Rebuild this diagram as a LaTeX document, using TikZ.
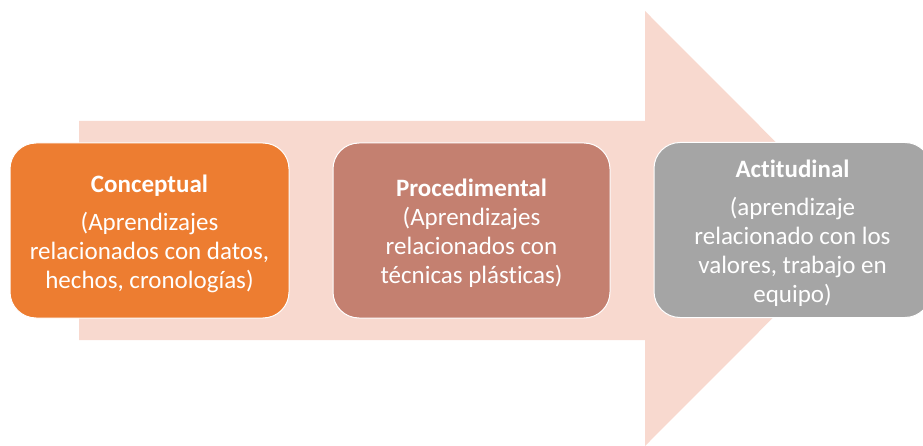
\documentclass[tikz,border=0pt]{standalone}
\usepackage{fontspec}
\setmainfont[RawFeature={-liga;-clig;-dlig}]{Carlito}
\definecolor{arrowfill}{HTML}{F8D9CF}
\definecolor{orangec}{HTML}{ED7D31}
\definecolor{brownc}{HTML}{C48070}
\definecolor{grayc}{HTML}{A5A5A5}
\begin{document}
\begin{tikzpicture}[x=1pt,y=-1pt,
  stagebox/.style={draw=white, line width=1pt, rounded corners=26pt,
    minimum height=175pt, inner sep=0pt},
  stagetext/.style={text=white, align=center, inner sep=0pt, yshift=-3pt,
    font=\fontsize{25}{29}\selectfont}]
\useasboundingbox (0,0) rectangle (923,446);
\clip (0,0) rectangle (923,446);
\fill[arrowfill] (79,121) -- (645,121) -- (645,11) -- (862,228.5) -- (645,446) -- (645,340) -- (79,340) -- cycle;
\node[stagebox, fill=orangec, minimum width=279pt] (c) at (149.5,230.5) {};
\node[stagebox, fill=brownc, minimum width=277pt] (p) at (471.5,230.5) {};
\node[stagebox, fill=grayc, minimum width=277pt] (a) at (792.5,230) {};
\node[stagetext] (ct) at (c.center)
  {\textbf{Conceptual}\\[9pt](Aprendizajes\\relacionados con datos,\\hechos, cronologías)};
\node[stagetext] (pt) at (p.center)
  {\textbf{Procedimental}\\(Aprendizajes\\relacionados con\\técnicas plásticas)};
\node[stagetext] (at) at (a.center)
  {\textbf{Actitudinal}\\[9pt](aprendizaje\\relacionado con los\\valores, trabajo en\\equipo)};
\end{tikzpicture}
\end{document}
